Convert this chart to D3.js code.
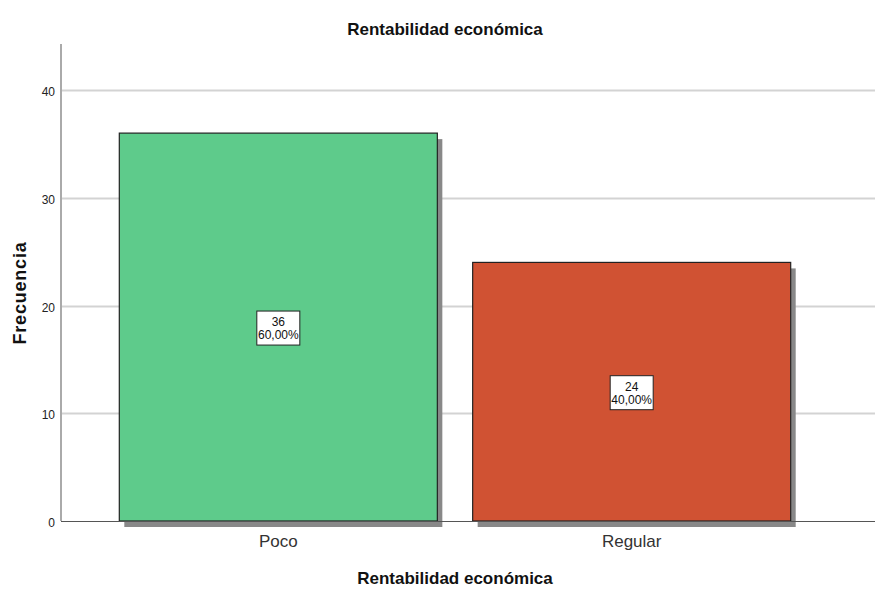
<!DOCTYPE html>
<html>
<head>
<meta charset="utf-8">
<script src="https://cdn.jsdelivr.net/npm/d3@7"></script>
<style>
    body { margin: 0; background: #fff; }
    svg { display: block; font-family: "Liberation Sans", Arial, sans-serif; }
</style>
</head>
<body>
<div id="chart"></div>
<script>
// Data
const categories = ['Poco', 'Regular'];
const counts = [36, 24];
const percents = ['60,00%', '40,00%'];
const yTicks = [0, 10, 20, 30, 40];
const barColors = ['#5ecb8b', '#d05233'];

const width = 875, height = 589;
const plotLeft = 61, plotRight = 875, plotTop = 44, plotBottom = 521;

const svg = d3.select('#chart').append('svg')
    .attr('width', width)
    .attr('height', height);

const x = d3.scaleBand()
    .domain(categories)
    .range([plotLeft, 849])
    .paddingInner(0.1)
    .paddingOuter(0.165);

const y = d3.scaleLinear()
    .domain([0, 44.27])
    .range([plotBottom, plotTop]);

// Gridlines
svg.append('g')
    .selectAll('line')
    .data(yTicks.filter(d => d > 0))
    .join('line')
    .attr('x1', plotLeft + 1).attr('x2', plotRight)
    .attr('y1', d => Math.round(y(d)) + 0.5)
    .attr('y2', d => Math.round(y(d)) + 0.5)
    .attr('stroke', '#d3d3d3')
    .attr('stroke-width', 2);

// Shadows
svg.append('g')
    .selectAll('rect')
    .data(counts)
    .join('rect')
    .attr('x', (d, i) => x(categories[i]) + 5)
    .attr('y', d => y(d) + 6)
    .attr('width', x.bandwidth())
    .attr('height', d => plotBottom - y(d))
    .attr('fill', '#888');

// Bars
svg.append('g')
    .selectAll('rect')
    .data(counts)
    .join('rect')
    .attr('x', (d, i) => x(categories[i]))
    .attr('y', d => y(d))
    .attr('width', x.bandwidth())
    .attr('height', d => plotBottom - y(d))
    .attr('fill', (d, i) => barColors[i])
    .attr('stroke', '#222')
    .attr('stroke-width', 1.2);

// Axis lines
svg.append('line')
    .attr('x1', plotLeft).attr('x2', plotLeft)
    .attr('y1', plotTop).attr('y2', plotBottom)
    .attr('stroke', '#aaa').attr('stroke-width', 2);
svg.append('line')
    .attr('x1', plotLeft).attr('x2', plotRight)
    .attr('y1', plotBottom + 0.5).attr('y2', plotBottom + 0.5)
    .attr('stroke', '#555').attr('stroke-width', 1);

// Y tick labels
svg.append('g')
    .selectAll('text')
    .data(yTicks)
    .join('text')
    .attr('x', 55)
    .attr('y', d => y(d) + 6)
    .attr('text-anchor', 'end')
    .attr('font-size', 12)
    .attr('fill', '#222')
    .text(d => d);

// Category labels
svg.append('g')
    .selectAll('text')
    .data(categories)
    .join('text')
    .attr('x', d => x(d) + x.bandwidth() / 2)
    .attr('y', 547)
    .attr('text-anchor', 'middle')
    .attr('font-size', 17)
    .attr('fill', '#333')
    .text(d => d);

// Value label boxes
const lbl = svg.append('g')
    .selectAll('g')
    .data(counts)
    .join('g')
    .attr('transform', (d, i) =>
        `translate(${x(categories[i]) + x.bandwidth() / 2},${y(d / 2) + 1})`);

lbl.append('rect')
    .attr('x', -21.5).attr('y', -17)
    .attr('width', 43).attr('height', 34)
    .attr('fill', '#fff')
    .attr('stroke', '#222')
    .attr('stroke-width', 1);

lbl.append('text')
    .attr('text-anchor', 'middle')
    .attr('font-size', 12)
    .attr('fill', '#111')
    .attr('y', -2)
    .text(d => d);

lbl.append('text')
    .attr('text-anchor', 'middle')
    .attr('font-size', 12)
    .attr('fill', '#111')
    .attr('y', 11)
    .text((d, i) => percents[i]);

// Titles
svg.append('text')
    .attr('x', 445).attr('y', 35)
    .attr('text-anchor', 'middle')
    .attr('font-size', 17)
    .attr('font-weight', 'bold')
    .attr('fill', '#111')
    .text('Rentabilidad económica');

svg.append('text')
    .attr('x', 455).attr('y', 584)
    .attr('text-anchor', 'middle')
    .attr('font-size', 17)
    .attr('font-weight', 'bold')
    .attr('fill', '#111')
    .text('Rentabilidad económica');

svg.append('text')
    .attr('transform', 'translate(25.5,293) rotate(-90)')
    .attr('text-anchor', 'middle')
    .attr('font-size', 18)
    .attr('letter-spacing', 0.8)
    .attr('font-weight', 'bold')
    .attr('fill', '#111')
    .text('Frecuencia');
</script>
</body>
</html>
